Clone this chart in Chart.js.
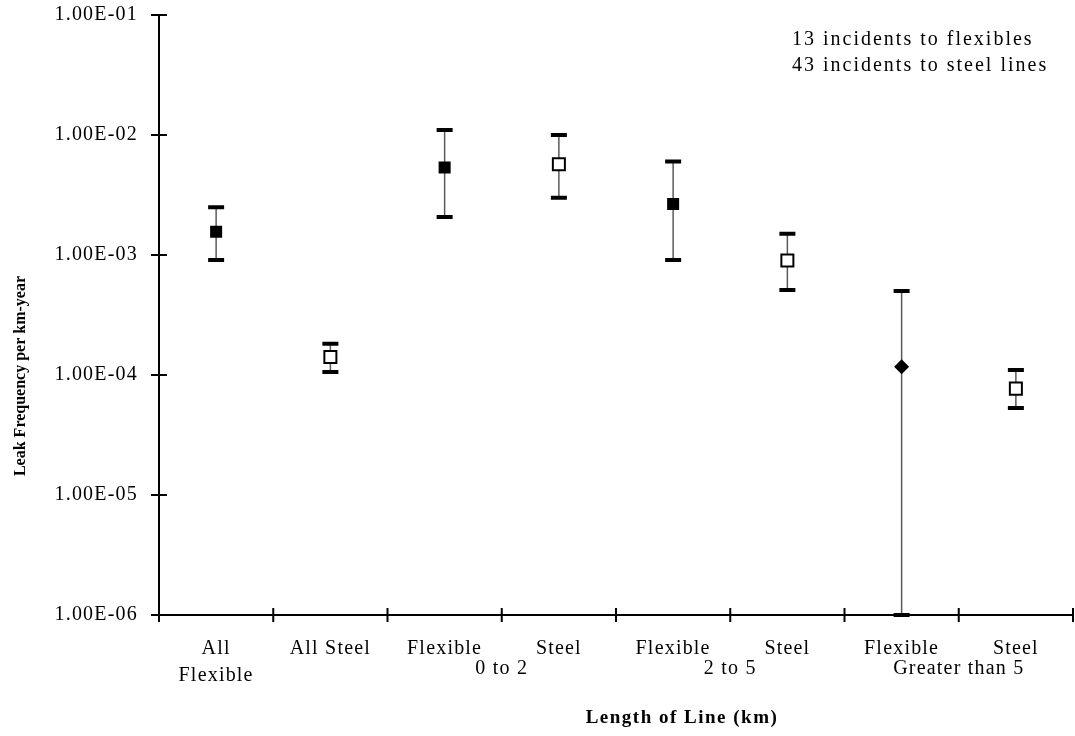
<!DOCTYPE html>
<html>
<head>
<meta charset="utf-8">
<title>Leak Frequency per km-year</title>
<script src="https://cdn.jsdelivr.net/npm/chart.js"></script>
<style>
  html, body { margin: 0; padding: 0; background: #fff; overflow: hidden; }
  #wrap { width: 1075px; height: 736px; position: relative; }
  #leakChart { display: block; }
</style>
</head>
<body>
<div id="wrap"><canvas id="leakChart"></canvas></div>
<script>
'use strict';

// categories along the x axis (first one wraps onto two lines)
var categories = [['All', 'Flexible'], 'All Steel', 'Flexible', 'Steel', 'Flexible', 'Steel', 'Flexible', 'Steel'];
// length-of-line groups, each spanning a pair of categories
var groupLabels = ['0 to 2', '2 to 5', 'Greater than 5'];
var groupStart = [2, 4, 6];

// leak frequency per km-year with lower / upper bounds
var frequency = [1.56e-3, 1.41e-4, 5.35e-3, 5.7e-3, 2.66e-3, 9.0e-4, 1.17e-4, 7.7e-5];
var upperBound = [2.5e-3, 1.82e-4, 1.1e-2, 1.0e-2, 6.0e-3, 1.5e-3, 5.0e-4, 1.1e-4];
var lowerBound = [9.1e-4, 1.06e-4, 2.07e-3, 3.0e-3, 9.1e-4, 5.1e-4, 1.0e-6, 5.3e-5];
var markerKind = ['solid', 'open', 'solid', 'open', 'solid', 'open', 'diamond', 'open'];

var decades = [1e-6, 1e-5, 1e-4, 1e-3, 1e-2, 1e-1];
var notes = ['13 incidents to flexibles', '43 incidents to steel lines'];
var xTitle = 'Length of Line (km)';
var yTitle = 'Leak Frequency per km-year';

var serif = "'Liberation Serif', 'Times New Roman', serif";

function sciLabel(v) {
	var e = Math.round(Math.log10(v));
	var s = Math.abs(e) < 10 ? '0' + Math.abs(e) : '' + Math.abs(e);
	return '1.00E' + (e < 0 ? '-' : '+') + s;
}

// wide tracking on all chart text
var spacing = {
	id: 'spacing',
	beforeDraw: function (chart) { chart.ctx.letterSpacing = '1.2px'; }
};

// thin stem plus heavy caps behind every marker
var errorBars = {
	id: 'errorBars',
	beforeDatasetsDraw: function (chart) {
		var ctx = chart.ctx;
		var x = chart.scales.x, y = chart.scales.y;
		ctx.save();
		for (var i = 0; i < frequency.length; i++) {
			var px = x.getPixelForValue(i);
			var top = y.getPixelForValue(upperBound[i]);
			var bot = y.getPixelForValue(lowerBound[i]);
			ctx.strokeStyle = '#5a5a5a';
			ctx.lineWidth = 1.5;
			ctx.beginPath();
			ctx.moveTo(px, top);
			ctx.lineTo(px, bot);
			ctx.stroke();
			ctx.strokeStyle = '#000';
			ctx.lineWidth = 4;
			ctx.beginPath();
			ctx.moveTo(px - 8, top); ctx.lineTo(px + 8, top);
			ctx.moveTo(px - 8, bot); ctx.lineTo(px + 8, bot);
			ctx.stroke();
		}
		ctx.restore();
	}
};

// tick marks crossing both axes, group captions, titles and the incident note
var axisExtras = {
	id: 'axisExtras',
	afterDraw: function (chart) {
		var ctx = chart.ctx;
		var x = chart.scales.x, y = chart.scales.y;
		var area = chart.chartArea;
		ctx.save();
		ctx.strokeStyle = '#000';
		ctx.lineWidth = 2;
		ctx.beginPath();
		decades.forEach(function (d) {
			var py = y.getPixelForValue(d);
			ctx.moveTo(area.left - 8, py);
			ctx.lineTo(area.left + 8, py);
		});
		for (var i = 0; i <= categories.length; i++) {
			var px = x.getPixelForValue(i - 0.5);
			ctx.moveTo(px, area.bottom - 7);
			ctx.lineTo(px, area.bottom + 7);
		}
		ctx.stroke();

		ctx.fillStyle = '#000';
		ctx.letterSpacing = '1.2px';
		ctx.font = '20px ' + serif;
		ctx.textAlign = 'center';
		ctx.textBaseline = 'middle';
		groupLabels.forEach(function (g, k) {
			var px = x.getPixelForValue(groupStart[k] + 0.5);
			ctx.fillText(g, px, 669);
		});

		ctx.font = 'bold 19px ' + serif;
		ctx.letterSpacing = '1.5px';
		ctx.fillText(xTitle, 682, 718);

		ctx.save();
		ctx.translate(21, 376);
		ctx.rotate(-Math.PI / 2);
		ctx.font = 'bold 16px ' + serif;
		ctx.letterSpacing = '0px';
		ctx.fillText(yTitle, 0, 0);
		ctx.restore();

		ctx.font = '20px ' + serif;
		ctx.letterSpacing = '2px';
		ctx.textAlign = 'left';
		notes.forEach(function (t, k) {
			ctx.fillText(t, 792, 40 + k * 26);
		});
		ctx.restore();
	}
};

var ctx = document.getElementById('leakChart').getContext('2d');
var leakChart = new Chart(ctx, {
	type: 'line',
	data: {
		labels: categories,
		datasets: [{
			label: 'Leak Frequency',
			data: frequency,
			showLine: false,
			pointStyle: markerKind.map(function (m) { return m === 'diamond' ? 'rectRot' : 'rect'; }),
			pointRadius: markerKind.map(function (m) { return m === 'diamond' ? 7.5 : 8.5; }),
			backgroundColor: markerKind.map(function (m) { return m === 'open' ? '#fff' : '#000'; }),
			borderColor: '#000',
			borderWidth: markerKind.map(function (m) { return m === 'open' ? 2 : 0; })
		}]
	},
	options: {
		responsive: true,
		maintainAspectRatio: false,
		animation: false,
		layout: { autoPadding: false, padding: { top: 15, right: 2, left: 0, bottom: 0 } },
		plugins: {
			legend: { display: false },
			tooltip: { enabled: false }
		},
		scales: {
			x: {
				type: 'category',
				offset: true,
				grid: { display: false, drawTicks: false },
				border: { display: true, color: '#000', width: 2 },
				ticks: {
					color: '#000',
					font: { family: serif, size: 20, lineHeight: 1.35 },
					padding: 20,
					maxRotation: 0,
					autoSkip: false
				},
				afterFit: function (scale) {
					scale.height = 121;
					scale.paddingLeft = 0;
					scale.paddingRight = 0;
				}
			},
			y: {
				type: 'logarithmic',
				min: 1e-6,
				max: 1e-1,
				grid: { display: false, drawTicks: false },
				border: { display: true, color: '#000', width: 2 },
				afterBuildTicks: function (scale) {
					scale.ticks = decades.map(function (d) { return { value: d }; });
				},
				ticks: {
					color: '#000',
					font: { family: serif, size: 20 },
					padding: 21,
					callback: function (v) { return sciLabel(v); }
				},
				afterFit: function (scale) {
					scale.width = 159;
					scale.paddingTop = 0;
					scale.paddingBottom = 0;
				}
			}
		}
	},
	plugins: [spacing, errorBars, axisExtras]
});
</script>
</body>
</html>
